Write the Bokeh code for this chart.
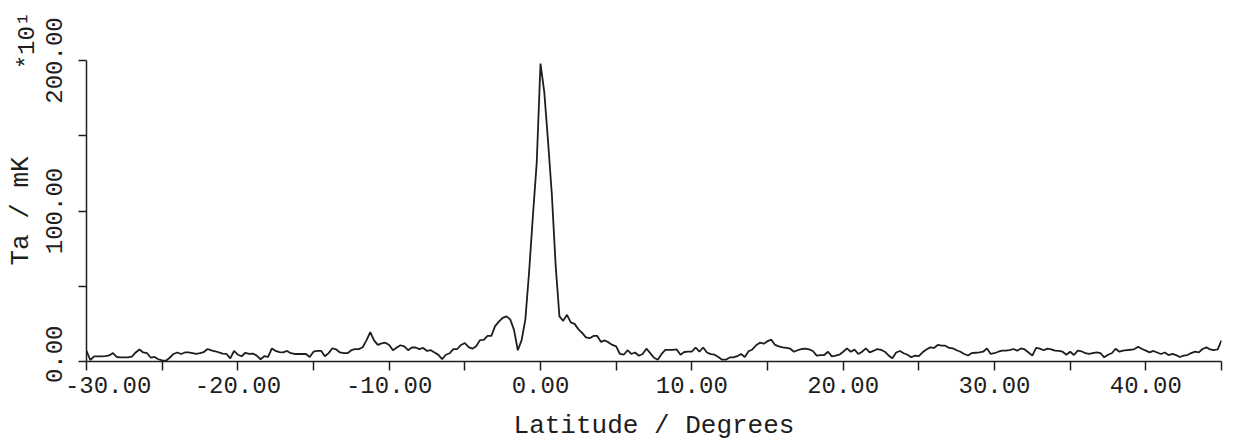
import math
import numpy as np
from bokeh.plotting import figure
from bokeh.models import Range1d, FixedTicker, PrintfTickFormatter, Label
from bokeh.embed import file_html
from bokeh.resources import INLINE

# Antenna temperature (Ta, mK /10) sampled every 0.25 deg of latitude, from -30 to +45 deg
ta = [
    7, 1, 3.4, 3.4, 3.4, 3.6, 4, 5.6,             # -30
    3.0, 2.8, 2.8, 2.8, 3.2, 6, 8, 6,             # -28
    5.5, 2.5, 3, 1.5, 0.8, 0.5, 2.5, 5,           # -26
    6, 5, 6, 6, 5.6, 5, 5.5, 6.3,                 # -24
    8.3, 7.4, 6.8, 6, 5.3, 5, 2.1, 7,             # -22
    4.5, 3.5, 5.8, 5, 5.3, 3.9, 1.5, 3.5,         # -20
    3, 8.7, 7, 6.2, 6.1, 7, 5.5, 5,               # -18
    5, 5, 5, 3, 6.5, 7.1, 7.1, 3.5,               # -16
    5.6, 8.8, 8, 6, 5.5, 5.5, 7.5, 8.2,           # -14
    8.2, 9.5, 14, 19.5, 14, 11, 12, 12.5,         # -12
    11, 7.5, 9.3, 10.8, 10, 7.5, 9.3, 9.3,        # -10
    8.2, 9, 7, 7.5, 6, 4.4, 1.6, 4.5,             # -8
    5.5, 8.2, 8.3, 11, 12.3, 9.5, 8.5, 10.2,      # -6
    14.2, 14.4, 17, 17, 23.5, 26.5, 29, 30,       # -4
    28, 21, 7.5, 14, 28, 60, 97, 132,             # -2
    198, 179, 146, 111, 64, 30, 27, 31,           # 0
    26, 25, 21.5, 19, 16, 15.5, 17, 17,           # 2
    13, 14, 12.7, 11, 10, 5, 4.5, 7.5,            # 4
    5, 6, 3.8, 5, 8.5, 5.6, 2.5, 1.2,             # 6
    5, 7.7, 7.7, 7.7, 8, 4.5, 6.3, 6.5,           # 8
    6.5, 9.3, 6.5, 9.3, 6, 4.9, 4.5, 3,           # 10
    1.2, 1.2, 2.7, 2.7, 3.5, 5, 3, 6.8,           # 12
    8, 10.8, 12.5, 11.8, 13.5, 14.5, 11, 10,      # 14
    9.4, 9, 8.5, 6.5, 7.5, 8.3, 8.5, 8,           # 16
    7, 3.9, 4.3, 4.3, 6.5, 3.4, 3.9, 4.5,         # 18
    6.5, 8.7, 6.5, 7.9, 5, 6.5, 8.7, 6.1,         # 20
    7, 8.3, 7.8, 6.5, 4, 2.1, 6, 7,               # 22
    5.5, 4.5, 2.8, 3.9, 3.6, 6.1, 8, 9.4,         # 24
    9, 11, 10.5, 10.5, 9, 8.7, 7.5, 6.5,          # 26
    5, 4, 5.6, 5.8, 6, 6.5, 8.7, 5,               # 28
    5.5, 6.5, 7.2, 7.2, 7.5, 8.3, 7.2, 8.7,       # 30
    8, 6, 3.9, 9, 8.5, 7.5, 8.5, 8,               # 32
    7.2, 7.0, 6.5, 4.5, 6.5, 4.3, 7.2, 6.8,       # 34
    5.5, 5.0, 5.6, 6.1, 5.5, 2.8, 4.5, 5.5,       # 36
    8.5, 6.5, 7.2, 7.5, 7.8, 8.3, 9.8, 8.3,       # 38
    7.2, 6.1, 7, 6, 5, 6, 4.3, 5,                 # 40
    4.2, 3.0, 3.9, 4.3, 5.6, 6.5, 6.1, 8.3,       # 42
    9.4, 8, 7.5, 8, 14,                           # 44
]
lat_start = -30.0
lat_step = 0.25
lat = [lat_start + lat_step * i for i in range(len(ta))]

x_major = [-30, -20, -10, 0, 10, 20, 30, 40]
x_minor = [-25, -15, -5, 5, 15, 25, 35, 45]
y_major = [0, 100, 200]
y_minor = [50, 150]

x_title = "Latitude / Degrees"
y_title = "Ta / mK"
y_scale_note = "*10¹"

FONT = "Liberation Mono"
INK = "#1e1e1e"
NB = "\u00a0"

p = figure(width=1234, height=443, output_backend="svg", toolbar_location=None,
           x_range=Range1d(-30, 45), y_range=Range1d(0, 200),
           min_border_left=86, min_border_right=13, min_border_top=60,
           min_border_bottom=81)
p.outline_line_color = None
p.grid.visible = False
p.background_fill_color = "white"
p.border_fill_color = "white"

p.line(lat, ta, line_color=INK, line_width=1.8)

for ax in (p.xaxis[0], p.yaxis[0]):
    ax.axis_line_color = INK
    ax.axis_line_width = 1.5
    ax.major_tick_line_color = INK
    ax.minor_tick_line_color = INK
    ax.major_tick_line_width = 1.5
    ax.minor_tick_line_width = 1.5
    ax.major_tick_in = 0
    ax.minor_tick_in = 0
    ax.major_label_text_font = FONT
    ax.major_label_text_font_size = "24px"
    ax.major_label_text_color = INK
    ax.axis_label_text_font = FONT
    ax.axis_label_text_font_style = "normal"
    ax.axis_label_text_font_size = "26px"
    ax.axis_label_text_color = INK
    ax.formatter = PrintfTickFormatter(format="%.2f")

xa = p.xaxis[0]
xa.ticker = FixedTicker(ticks=x_major, minor_ticks=x_minor)
xa.major_tick_out = 9
xa.minor_tick_out = 9
xa.major_label_standoff = 2
xa.major_label_overrides = {-30: NB * 3 + "-30.00"}
xa.axis_label = x_title
xa.axis_label_standoff = 8

ya = p.yaxis[0]
ya.ticker = FixedTicker(ticks=y_major, minor_ticks=y_minor)
ya.major_tick_out = 8
ya.minor_tick_out = 8
ya.major_label_orientation = "vertical"
ya.major_label_standoff = 10
ya.major_label_overrides = {0: NB + "0.00"}
ya.axis_label = y_title
ya.axis_label_standoff = 3

p.add_layout(Label(x=-59, y=20, x_units="screen", y_units="screen",
                   text=y_scale_note, angle=math.pi / 2,
                   text_align="center", text_baseline="middle",
                   text_font=FONT, text_font_size="24px", text_color=INK), "above")

open("out.html", "w").write(file_html(p, INLINE))
